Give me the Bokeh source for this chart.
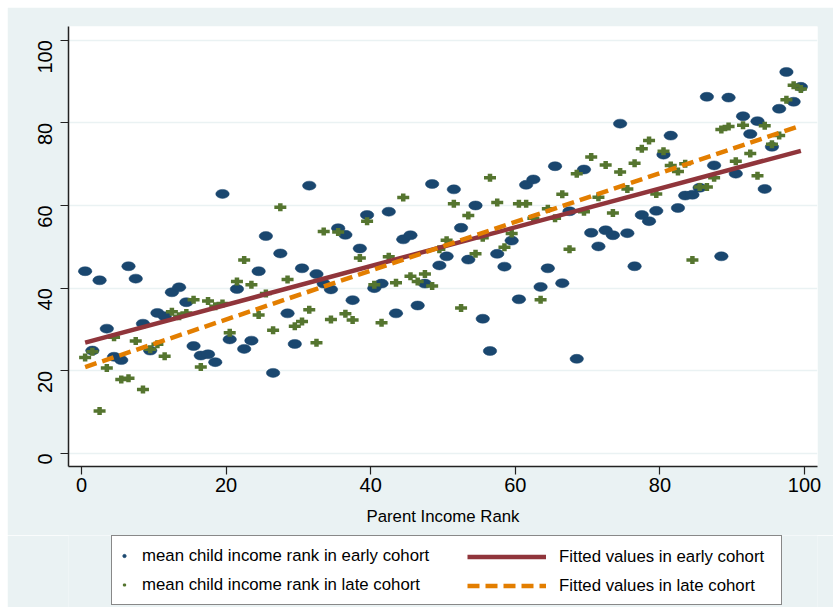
import numpy as np
from bokeh.plotting import figure
from bokeh.layouts import column
from bokeh.models import ColumnDataSource, Legend, LegendItem, Range1d, FixedTicker
from bokeh.embed import file_html
from bokeh.resources import INLINE

# Parent income rank (percentile midpoints)
parent_rank = [0.5, 1.5, 2.5, 3.5, 4.5, 5.5, 6.5, 7.5, 8.5, 9.5,
               10.5, 11.5, 12.5, 13.5, 14.5, 15.5, 16.5, 17.5, 18.5, 19.5,
               20.5, 21.5, 22.5, 23.5, 24.5, 25.5, 26.5, 27.5, 28.5, 29.5,
               30.5, 31.5, 32.5, 33.5, 34.5, 35.5, 36.5, 37.5, 38.5, 39.5,
               40.5, 41.5, 42.5, 43.5, 44.5, 45.5, 46.5, 47.5, 48.5, 49.5,
               50.5, 51.5, 52.5, 53.5, 54.5, 55.5, 56.5, 57.5, 58.5, 59.5,
               60.5, 61.5, 62.5, 63.5, 64.5, 65.5, 66.5, 67.5, 68.5, 69.5,
               70.5, 71.5, 72.5, 73.5, 74.5, 75.5, 76.5, 77.5, 78.5, 79.5,
               80.5, 81.5, 82.5, 83.5, 84.5, 85.5, 86.5, 87.5, 88.5, 89.5,
               90.5, 91.5, 92.5, 93.5, 94.5, 95.5, 96.5, 97.5, 98.5, 99.5]

early_cohort = [44.1, 24.9, 41.9, 30.2, 23.4, 22.6, 45.3, 42.3, 31.4, 24.9,
                34.0, 33.2, 39.0, 40.2, 36.6, 26.0, 23.7, 24.0, 22.1, 62.8,
                27.6, 39.8, 25.3, 27.3, 44.1, 52.6, 19.5, 48.4, 33.9, 26.5,
                44.8, 64.8, 43.4, 41.1, 39.7, 54.5, 52.9, 37.1, 49.6, 57.7,
                40.0, 41.1, 58.5, 33.9, 51.8, 52.8, 35.8, 41.1, 65.2, 45.5,
                47.7, 63.9, 54.6, 46.9, 60.0, 32.6, 24.8, 48.3, 45.2, 51.5,
                37.3, 65.0, 66.3, 40.3, 44.8, 69.5, 41.2, 58.6, 22.9, 68.7,
                53.4, 50.1, 54.0, 52.8, 79.8, 53.3, 45.3, 57.7, 56.2, 58.7,
                72.3, 76.9, 59.4, 62.4, 62.6, 64.3, 86.3, 69.7, 47.7, 86.1,
                67.7, 81.6, 77.3, 80.4, 64.0, 74.2, 83.4, 92.3, 85.1, 88.7]

late_cohort = [23.2, 24.6, 10.3, 20.7, 28.1, 17.9, 18.2, 27.2, 15.5, 25.2,
               26.4, 23.5, 34.3, 33.2, 34.0, 37.2, 20.9, 36.9, 35.6, 36.3,
               29.2, 41.6, 46.8, 40.8, 33.5, 38.7, 29.8, 59.6, 42.1, 30.8,
               31.9, 34.8, 26.8, 53.7, 32.4, 53.6, 33.8, 32.3, 47.3, 56.2,
               40.8, 31.6, 47.6, 41.3, 61.9, 42.9, 41.6, 43.4, 40.5, 49.4,
               51.6, 60.4, 35.2, 57.6, 48.3, 52.2, 66.7, 60.7, 49.9, 53.2,
               60.4, 60.4, 56.9, 37.2, 59.2, 56.9, 62.7, 49.4, 67.7, 58.5,
               71.7, 62.0, 69.8, 58.2, 68.1, 64.0, 70.2, 73.7, 75.7, 62.8,
               73.1, 69.7, 68.2, 70.1, 46.8, 64.5, 64.5, 66.7, 78.4, 79.1,
               70.7, 79.4, 72.6, 67.2, 79.3, 74.8, 76.9, 85.6, 89.1, 88.2]

tick_values = [0, 20, 40, 60, 80, 100]

label_early_pts = "mean child income rank in early cohort"
label_late_pts = "mean child income rank in late cohort"
label_early_fit = "Fitted values in early cohort"
label_late_fit = "Fitted values in late cohort"
x_title = "Parent Income Rank"

NAVY = "#1A476F"
GREEN = "#55752F"
MAROON = "#90353B"
ORANGE = "#E37E00"
BG = "#EAF2F3"
FONT = "Liberation Sans"

# Linear fits (OLS) of each cohort on parent rank
xa = np.array(parent_rank)
b1, a1 = np.polyfit(xa, np.array(early_cohort), 1)
b2, a2 = np.polyfit(xa, np.array(late_cohort), 1)
fit_x = [xa.min(), xa.max()]
fit_early = [a1 + b1 * v for v in fit_x]
fit_late = [a2 + b2 * v for v in fit_x]

p = figure(width=826, height=528, output_backend="svg", toolbar_location=None,
           x_range=Range1d(-1.8, 101.8), y_range=Range1d(-3.15, 103.3),
           min_border_left=61, min_border_right=16, min_border_top=19,
           min_border_bottom=69)
p.background_fill_color = "white"
p.border_fill_color = BG
p.outline_line_color = None

src = ColumnDataSource(dict(x=parent_rank, e=early_cohort, l=late_cohort))

p.ellipse("x", "e", source=src, width=13.5, height=9, width_units="screen",
          height_units="screen", fill_color=NAVY, line_color=NAVY, line_width=0.5)
p.rect("x", "l", source=src, width=12, height=3.5, width_units="screen",
       height_units="screen", fill_color=GREEN, line_color=None)
p.rect("x", "l", source=src, width=4.5, height=8, width_units="screen",
       height_units="screen", fill_color=GREEN, line_color=None)

p.line(fit_x, fit_early, line_color=MAROON, line_width=4.5)
p.line(fit_x, fit_late, line_color=ORANGE, line_width=4.5, line_dash="12 6")

# axes
for ax in (p.xaxis[0], p.yaxis[0]):
    ax.ticker = FixedTicker(ticks=tick_values)
    ax.axis_line_color = "#222222"
    ax.axis_line_width = 1.5
    ax.major_tick_line_color = "#222222"
    ax.major_tick_line_width = 1.2
    ax.major_tick_out = 8
    ax.major_tick_in = 0
    ax.minor_tick_line_color = None
    ax.major_label_text_font = FONT
    ax.major_label_text_font_size = "20px"
    ax.major_label_text_color = "black"

p.yaxis[0].major_label_orientation = np.pi / 2
p.yaxis[0].major_label_standoff = 15
p.xaxis[0].major_label_standoff = 3
p.xaxis[0].axis_label = x_title
p.xaxis[0].axis_label_text_font = FONT
p.xaxis[0].axis_label_text_font_size = "16.8px"
p.xaxis[0].axis_label_text_font_style = "normal"
p.xaxis[0].axis_label_text_color = "black"
p.xaxis[0].axis_label_standoff = 12

p.xgrid.grid_line_color = None
p.ygrid.grid_line_color = BG
p.ygrid.grid_line_width = 1.5
p.ygrid.ticker = FixedTicker(ticks=tick_values)

# legend strip: a small figure whose frame is aligned with the main one
lf = figure(width=826, height=72, output_backend="svg", toolbar_location=None,
            x_range=Range1d(0, 1), y_range=Range1d(0, 1),
            x_axis_location=None, y_axis_location=None,
            min_border_left=61, min_border_right=16, min_border_top=0,
            min_border_bottom=0)
lf.background_fill_color = BG
lf.border_fill_color = BG
lf.outline_line_color = None
lf.xgrid.grid_line_color = None
lf.ygrid.grid_line_color = None

key = ColumnDataSource(dict(x=[0], y=[0]))
k_e = lf.scatter("x", "y", source=key, marker="circle", size=8,
                 fill_color=NAVY, line_color=NAVY, visible=False)
k_l = lf.scatter("x", "y", source=key, marker="cross", size=8,
                 line_color=GREEN, line_width=2.2, visible=False)
k_fe = lf.line("x", "y", source=key, line_color=MAROON, line_width=4.5,
               visible=False)
k_fl = lf.line("x", "y", source=key, line_color=ORANGE, line_width=4.5,
               line_dash="12 6", visible=False)

common = dict(padding=8, spacing=6, glyph_height=23, label_height=23,
              label_text_font=FONT, label_text_font_size="16.8px",
              label_text_color="black", margin=0, inactive_fill_alpha=0.0)

# left column + the legend box (border, white fill)
leg_a = Legend(items=[LegendItem(label=label_early_pts, renderers=[k_e]),
                      LegendItem(label=label_late_pts, renderers=[k_l])],
               location=(43, 2), glyph_width=8, label_standoff=14,
               label_width=631, border_line_color="#111111",
               border_line_width=1.5, background_fill_color="white",
               background_fill_alpha=1.0, **common)
# right column (no border, so no padding)
leg_b = Legend(items=[LegendItem(label=label_early_fit, renderers=[k_fe]),
                      LegendItem(label=label_late_fit, renderers=[k_fl])],
               location=(399, 10), glyph_width=79, label_standoff=13,
               border_line_color=None, background_fill_alpha=0.0, **common)
lf.add_layout(leg_a, "center")
lf.add_layout(leg_b, "center")

layout = column(p, lf, spacing=0, margin=(7, 0, 0, 7))

open("out.html", "w").write(file_html(layout, INLINE))
